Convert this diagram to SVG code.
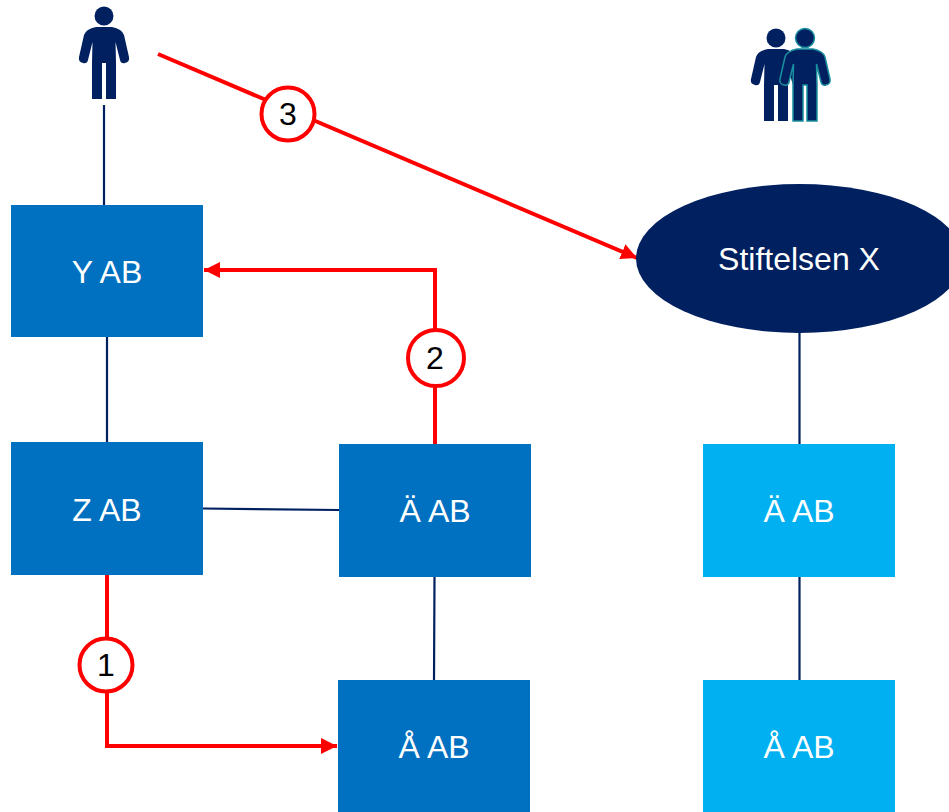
<svg xmlns="http://www.w3.org/2000/svg" width="949" height="812" viewBox="0 0 949 812">
<style>
text{font-family:"Liberation Sans",Arial,sans-serif;text-anchor:middle}
.l{font-size:32px;fill:#fff}
.n{font-size:32px;fill:#000}
.d{fill:#0070C0}.c{fill:#00B0F0}
.k{stroke:#002060;stroke-width:2.2;fill:none}
.r{stroke:#FF0000;stroke-width:4;fill:none}
.b{fill:#fff;stroke:#FF0000;stroke-width:4}
.p{fill:#002060}
</style>
<defs>
<marker id="a" markerUnits="userSpaceOnUse" markerWidth="17" markerHeight="17" refX="16" refY="8" orient="auto"><path d="M0 0L16 8L0 16Z" fill="#FF0000"/></marker>
<g id="person"><circle cx="0" cy="-83" r="9.500"/><path d="M-8 -72H8Q18 -70 20 -64L25 -42Q26 -37 21 -36Q17 -35 16 -39L11.500 -57L12 -36V0H2V-36H-2V0H-12V-36L-11.500 -57L-16 -39Q-17 -35 -21 -36Q-26 -37 -25 -42L-20 -64Q-18 -70 -8 -72Z"/></g>
</defs>
<g id="connectors">
<path class="k" d="M104 105V205M107 337V442M203 508.500L339 510M434.500 577L434 680M799.500 333V444M799.500 577V680"/>
<path class="r" d="M107 575V746H337" marker-end="url(#a)"/>
<path class="r" d="M435 444V270H204" marker-end="url(#a)"/>
<path class="r" d="M158 54L637 258" marker-end="url(#a)"/>
</g>
<g id="person-1" class="p"><use href="#person" x="104" y="99"/></g>
<g id="persons-2"><use href="#person" x="776" y="121" class="p"/><use href="#person" x="805" y="121" fill="#002060" stroke="#1A8F9F" stroke-width="1.500"/></g>
<g id="y-ab"><rect class="d" x="11" y="205" width="192" height="132"/><text class="l" x="107" y="283">Y AB</text></g>
<g id="z-ab"><rect class="d" x="11" y="442" width="192" height="133"/><text class="l" x="107" y="521">Z AB</text></g>
<g id="ae-ab-1"><rect class="d" x="339" y="444" width="192" height="133"/><text class="l" x="435" y="522">Ä AB</text></g>
<g id="aa-ab-1"><rect class="d" x="338" y="680" width="192" height="132"/><text class="l" x="434" y="758">Å AB</text></g>
<g id="ae-ab-2"><rect class="c" x="703" y="444" width="192" height="133"/><text class="l" x="799" y="522">Ä AB</text></g>
<g id="aa-ab-2"><rect class="c" x="703" y="680" width="192" height="132"/><text class="l" x="799" y="758">Å AB</text></g>
<g id="stiftelsen-x"><ellipse cx="799.500" cy="258.500" rx="163.500" ry="74.500" fill="#002060"/><text class="l" x="799" y="270">Stiftelsen X</text></g>
<g id="badge-1"><circle class="b" cx="106" cy="665" r="26.500"/><text class="n" x="106" y="676">1</text></g>
<g id="badge-2"><circle class="b" cx="436" cy="358" r="28"/><text class="n" x="435" y="369">2</text></g>
<g id="badge-3"><circle class="b" cx="288" cy="114" r="26.500"/><text class="n" x="288" y="125">3</text></g>
</svg>
